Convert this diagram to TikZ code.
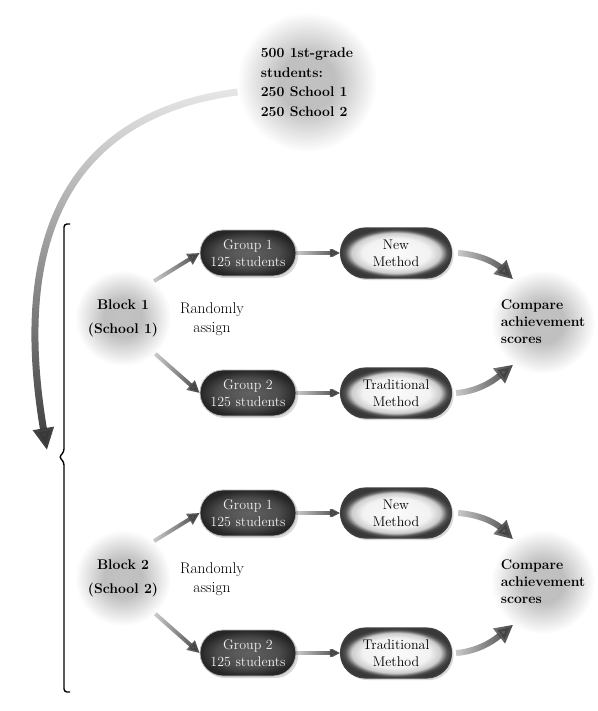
\documentclass[tikz,border=0pt]{standalone}
\usepackage{tikz}
\usetikzlibrary{arrows.meta,shapes.misc,shadows,fadings}
\newcommand{\FlowFont}{\fontsize{14}{17}\selectfont}
\newcommand{\HaloFont}{\fontsize{14}{19.5}\selectfont\bfseries}
\pgfdeclareradialshading{haloshade}{\pgfpointorigin}{color(0bp)=(gray!48); color(10bp)=(gray!50); color(25bp)=(white); color(50bp)=(white)}
\pgfdeclareradialshading{darkpill}{\pgfpointorigin}{color(0bp)=(black!62); color(16bp)=(black!70); color(22bp)=(black!80); color(25bp)=(black!85); color(50bp)=(black!85)}
\pgfdeclareradialshading{lightpill}{\pgfpointorigin}{color(0bp)=(gray!4); color(15bp)=(gray!10); color(20bp)=(gray!40); color(23bp)=(black!68); color(25bp)=(black!78); color(50bp)=(black!78)}
\tikzfading[name=arrowfade, left color=transparent!75, right color=transparent!0]
\tikzfading[name=dropfade, top color=transparent!88, bottom color=transparent!0]

\begin{document}
\begin{tikzpicture}[x=1pt,y=-1pt,
    halo/.style={circle,shade,shading=haloshade,minimum size=#1,inner sep=0pt},
    grpbox/.style={rounded rectangle,shade,shading=darkpill,draw=gray!55,line width=0.8pt,
      minimum width=100pt,minimum height=46pt,inner sep=2pt,text=white!94!black,
      font=\FlowFont,align=center,drop shadow={opacity=0.3}},
    methbox/.style={rounded rectangle,shade,shading=lightpill,draw=black!75,line width=1.2pt,
      minimum width=115pt,minimum height=50pt,inner sep=2pt,
      font=\FlowFont,align=center,drop shadow={opacity=0.3}},
    flow/.style={-{Triangle[length=#1,width=#1]},black!75,path fading=arrowfade},
    flow/.default=12pt]
  \useasboundingbox (0,0) rectangle (597,711);

  % population
  \node[halo=140pt,font=\HaloFont,align=left] (pool) at (307,82)
    {500 1st-grade\\students:\\250 School 1\\250 School 2};
  \coordinate (bigtip) at (47,450);
  \draw[line width=7pt,-{Triangle[length=22pt,width=20pt]},black!78,path fading=dropfade]
    (pool.188) .. controls (100,110) and (5,200) .. (bigtip);

  % bracket round the two blocks
  \draw[line width=1.4pt,rounded corners=3pt] (70,224) -- (64,224) -- (64,452)
    -- (59,457) -- (64,462) -- (64,692) -- (70,692);

  \foreach \b/\o in {1/0,2/260}{
    \node[halo=96pt,font=\FlowFont\bfseries,align=center] (block\b) at (123,318+\o)
      {Block \b\\[7pt](School \b)};
    \node[font=\fontsize{15.5}{19}\selectfont,align=center] (rand\b) at (212,319+\o) {Randomly\\assign};
    \node[grpbox] (grpA\b) at (248,253+\o) {Group 1\\125 students};
    \node[grpbox] (grpB\b) at (248,393+\o) {Group 2\\125 students};
    \node[methbox] (methA\b) at (396,253+\o) {New\\Method};
    \node[methbox] (methB\b) at (396,393+\o) {Traditional\\Method};
    \node[halo=104pt,font=\FlowFont\bfseries,align=left] (cmp\b) at (543,322+\o)
      {Compare\\achievement\\scores};

    \draw[flow,line width=4pt] (block\b.50) -- (grpA\b.west);
    \draw[flow,line width=4pt] (block\b.-48) -- (grpB\b.west);
    \draw[flow=10pt,line width=3.5pt] (grpA\b.east) -- (methA\b.west);
    \draw[flow=10pt,line width=3.5pt] (grpB\b.east) -- (methB\b.west);
    \draw[flow=18pt,line width=6pt] ([xshift=6pt]methA\b.east) .. controls +(26,2) and +(-15,-14) .. (cmp\b.125);
    \draw[flow=18pt,line width=6pt] ([xshift=4pt]methB\b.east) .. controls +(26,-2) and +(-15,12) .. (cmp\b.235);
  }
\end{tikzpicture}
\end{document}
